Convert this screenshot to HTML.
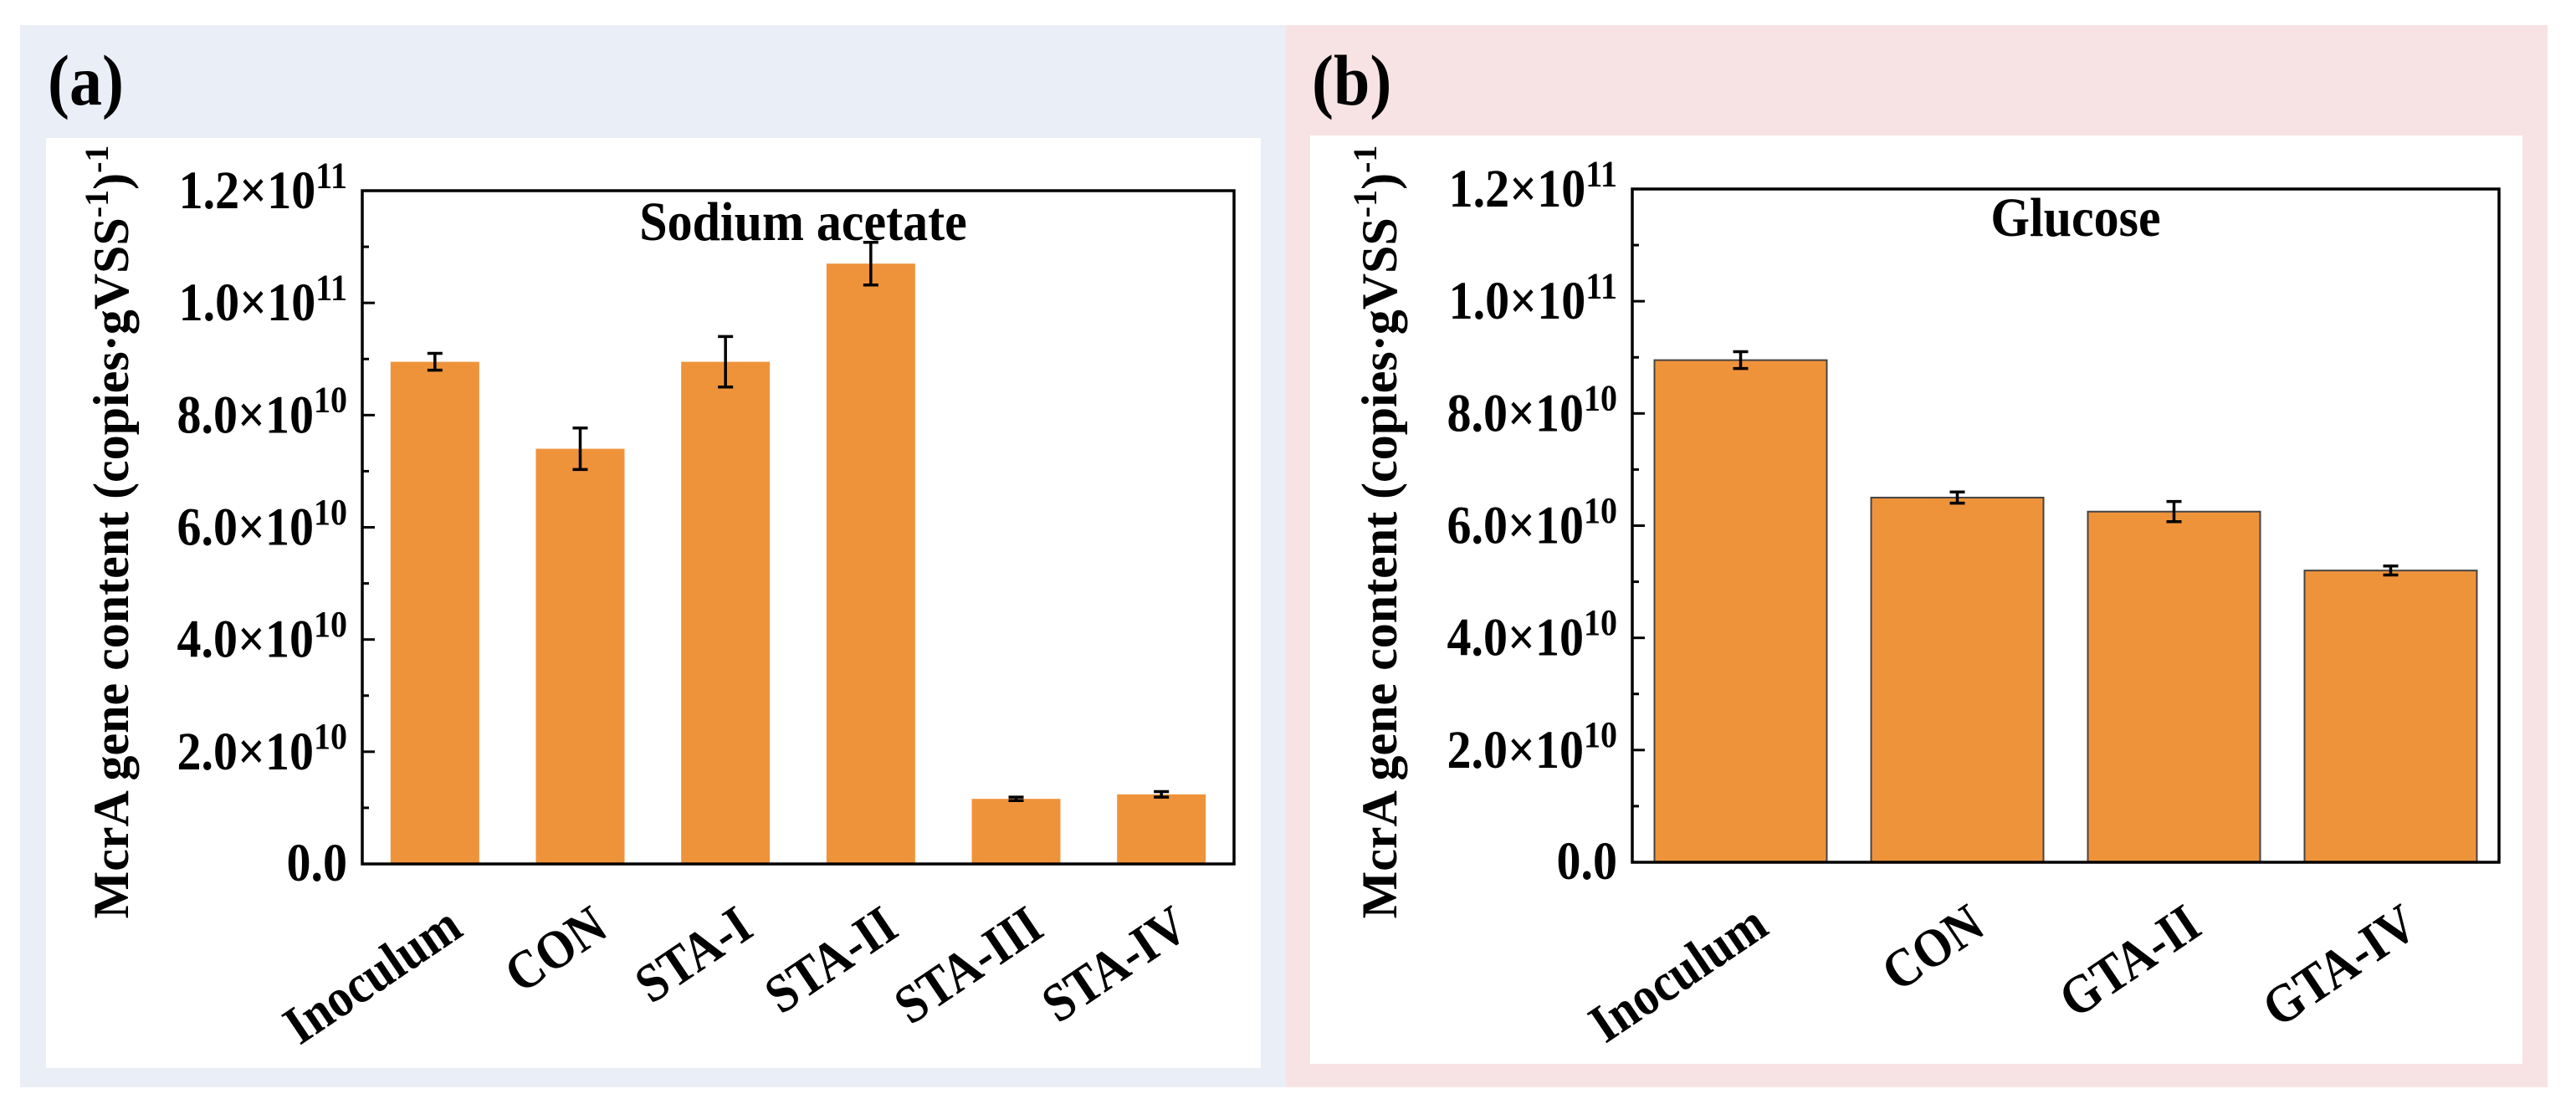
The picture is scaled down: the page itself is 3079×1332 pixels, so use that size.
<!DOCTYPE html>
<html><head><meta charset="utf-8"><style>
html,body{margin:0;padding:0;background:#fff;}
svg{display:block;}
text{font-family:"Liberation Serif","Times New Roman",serif;font-weight:bold;fill:#000;}
</style></head><body>
<svg id="fig" width="3079" height="1332" viewBox="0 0 3079 1332" xmlns="http://www.w3.org/2000/svg">
<rect x="24" y="30" width="1513" height="1270" fill="#EAEEF7"/>
<rect x="1537" y="30" width="1508" height="1270" fill="#F8E3E4"/>
<rect x="55" y="165" width="1452" height="1112" fill="#fff"/>
<rect x="1566" y="162" width="1449" height="1110" fill="#fff"/>
<text x="57" y="125" font-size="78" transform="translate(0,125) scale(1,1.1) translate(0,-125)">(a)</text>
<text x="1568" y="125" font-size="78" transform="translate(0,125) scale(1,1.1) translate(0,-125)">(b)</text>
<g id="chartA"></g>
<g id="chartB"></g>
</svg>
<script>
const catsA = ["Inoculum","CON","STA-I","STA-II","STA-III","STA-IV"];
const valsA = [8.95e10,7.4e10,8.95e10,10.7e10,1.16e10,1.24e10];
const errsA = [0.15e10,0.37e10,0.45e10,0.38e10,0.03e10,0.05e10];
const catsB = ["Inoculum","CON","GTA-II","GTA-IV"];
const valsB = [8.95e10,6.5e10,6.25e10,5.2e10];
const errsB = [0.15e10,0.1e10,0.18e10,0.08e10];
const tickVals = [0,2e10,4e10,6e10,8e10,10e10,12e10];
const tickMant = ["0.0","2.0","4.0","6.0","8.0","1.0","1.2"];
const tickExp = ["","10","10","10","10","11","11"];
const NS="http://www.w3.org/2000/svg";
function mk(tag,attrs,parent){const e=document.createElementNS(NS,tag);for(const k in attrs)e.setAttribute(k,attrs[k]);parent.appendChild(e);return e;}
function draw(g,cfg,cats,vals,errs,title,prefix){
  const {x0,x1,y0,y1,barW,outline,titleX,titleY,yTitleX}=cfg;
  const ys=v=>y0-(v/12e10)*(y0-y1);
  const step=(x1-x0)/cats.length;
  const xs=i=>x0+step*(i+0.5);
  cats.forEach((c,i)=>{
    const r=mk('rect',{x:xs(i)-barW/2,y:ys(vals[i]),width:barW,height:y0-ys(vals[i]),fill:'#EF933A',stroke:outline?'#444':'none','stroke-width':outline?2:0},g);
    
    
    const eg=mk('g',{stroke:'#000','stroke-width':3.5},g);
    
    
    const t=ys(vals[i]+errs[i]),b=ys(vals[i]-errs[i]),cx=xs(i);
    mk('line',{x1:cx,x2:cx,y1:t,y2:b},eg);
    mk('line',{x1:cx-9,x2:cx+9,y1:t,y2:t},eg);
    mk('line',{x1:cx-9,x2:cx+9,y1:b,y2:b},eg);
    const lab=mk('text',{x:0,y:0,'font-size':58,'text-anchor':'end',transform:`translate(${cx+36},${y0+84}) rotate(-34) scale(1,1.12)`},g);
    lab.textContent=c;
    
    
  });
  const fr=mk('rect',{x:x0,y:y1,width:x1-x0,height:y0-y1,fill:'none',stroke:'#000','stroke-width':3.5},g);
  
  
  tickVals.forEach((v,i)=>{
    const y=ys(v);
    mk('line',{x1:x0,x2:x0+15,y1:y,y2:y,stroke:'#000','stroke-width':3},g);
    if(i<tickVals.length-1){const ym=ys(v+1e10);mk('line',{x1:x0,x2:x0+8,y1:ym,y2:ym,stroke:'#000','stroke-width':3},g);}
    const by=y+(tickExp[i]?21:20);
    const t=mk('text',{x:x0-18,y:by,'font-size':58,'text-anchor':'end',transform:`translate(0,${by}) scale(1,1.12) translate(0,${-by})`},g);
    
    
    if(tickExp[i]){
      const a=mk('tspan',{},t);a.textContent=tickMant[i]+'×10';
      const s=mk('tspan',{dy:-22,'font-size':40},t);s.textContent=tickExp[i];
    } else t.textContent=tickMant[i];
  });
  const tt=mk('text',{x:titleX,y:titleY,'font-size':60,'text-anchor':'middle',transform:`translate(0,${titleY}) scale(1,1.1) translate(0,${-titleY})`},g);
  tt.textContent=title;
  
  
  const yt=mk('text',{x:0,y:0,'font-size':60,'text-anchor':'middle',transform:`translate(${yTitleX},636) rotate(-90)`},g);
  
  
  const p1=mk('tspan',{},yt);p1.textContent='McrA gene content (copies·gVSS';
  const p2=mk('tspan',{dy:-24,'font-size':40},yt);p2.textContent='-1';
  const p3=mk('tspan',{dy:24},yt);p3.textContent=')';
  const p4=mk('tspan',{dy:-24,'font-size':40},yt);p4.textContent='-1';
}
draw(document.getElementById('chartA'),{x0:433,x1:1475,y0:1033,y1:228,barW:106,outline:false,titleX:960,titleY:287,yTitleX:153},catsA,valsA,errsA,'Sodium acetate','a');
draw(document.getElementById('chartB'),{x0:1951,x1:2987,y0:1031,y1:226,barW:206,outline:true,titleX:2481,titleY:282,yTitleX:1669},catsB,valsB,errsB,'Glucose','b');
</script>
</body></html>
